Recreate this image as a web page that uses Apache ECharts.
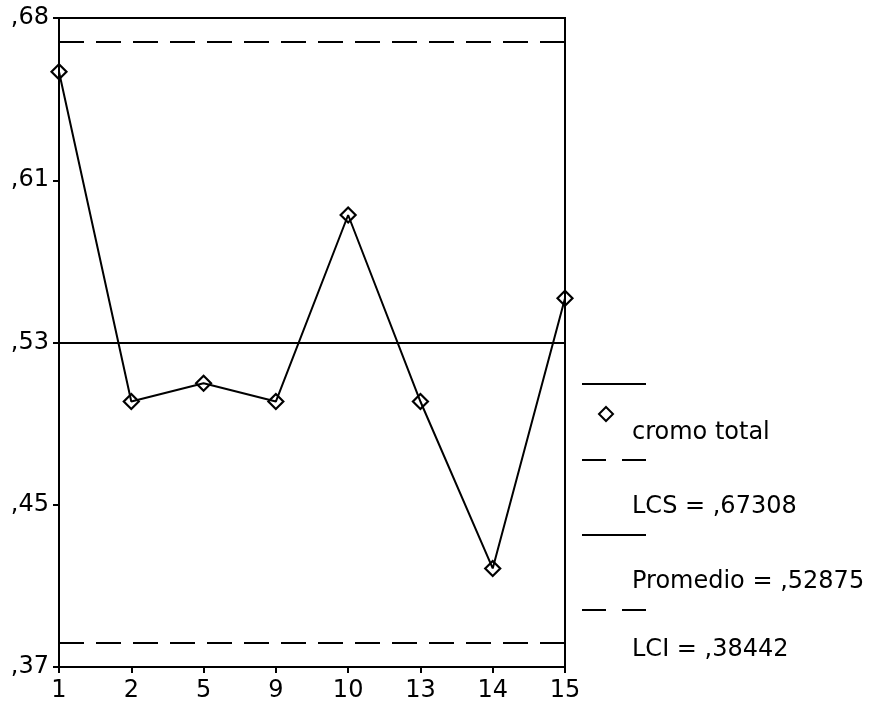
<!DOCTYPE html>
<html>
<head>
<meta charset="utf-8">
<script src="https://cdn.jsdelivr.net/npm/echarts@6/dist/echarts.min.js"></script>
<style>
  html, body { margin: 0; padding: 0; background: #fff; }
  #chart { width: 873px; height: 704px; }
</style>
</head>
<body>
<div id="chart"></div>
<script>
// muestras (eje x) y valores de cromo total
var categories = ['1', '2', '5', '9', '10', '13', '14', '15'];
var cromoTotal = [0.6588, 0.5004, 0.5092, 0.5004, 0.5900, 0.5004, 0.4202, 0.5500];

// limites de control
var LCS = 0.67308;
var promedio = 0.52875;
var LCI = 0.38442;

// eje y: marcas centradas en el promedio
var yMin = 0.37287;
var yMax = 0.68463;
var yTicks = [0.37287, 0.45081, 0.52875, 0.60669, 0.68463];
var yTickLabels = [',37', ',45', ',53', ',61', ',68'];

var FONT = 'DejaVu Sans';
var chart = echarts.init(document.getElementById('chart'));

function fmt(v) {
  return ',' + v.toFixed(5).split('.')[1];
}

chart.setOption({
  animation: false,
  backgroundColor: '#fff',
  grid: {
    left: 59,
    right: 308,
    top: 18,
    bottom: 37,
    show: true,
    borderColor: '#000',
    borderWidth: 2,
    backgroundColor: 'transparent'
  },
  xAxis: {
    type: 'category',
    data: categories,
    boundaryGap: false,
    axisLine: { lineStyle: { color: '#000', width: 2 } },
    axisTick: { show: true, length: 6, lineStyle: { color: '#000', width: 2 } },
    axisLabel: { color: '#000', fontFamily: FONT, fontSize: 24, margin: 12 },
    splitLine: { show: false }
  },
  yAxis: {
    type: 'value',
    min: yMin,
    max: yMax,
    axisLine: { show: true, lineStyle: { color: '#000', width: 2 } },
    axisTick: { show: true, length: 6, customValues: yTicks, lineStyle: { color: '#000', width: 2 } },
    axisLabel: {
      color: '#000', fontFamily: FONT, fontSize: 24, margin: 10,
      customValues: yTicks,
      formatter: function (v) {
        for (var i = 0; i < yTicks.length; i++) {
          if (Math.abs(yTicks[i] - v) < 1e-6) return yTickLabels[i];
        }
        return '';
      }
    },
    splitLine: { show: false }
  },
  series: [{
    name: 'cromo total',
    type: 'line',
    data: cromoTotal,
    symbol: 'diamond',
    symbolSize: 15,
    lineStyle: { color: '#000', width: 2 },
    itemStyle: { color: 'rgba(0,0,0,0)', borderColor: '#000', borderWidth: 2.2 },
    markLine: {
      silent: true,
      symbol: 'none',
      precision: 6, // sin esto redondea a 2 decimales
      label: { show: false },
      lineStyle: { color: '#000', width: 2 },
      data: [
        { yAxis: LCS, lineStyle: { type: [25, 12], color: '#000', width: 2 } },
        { yAxis: promedio, lineStyle: { type: 'solid', color: '#000', width: 2 } },
        { yAxis: LCI, lineStyle: { type: [25, 12], color: '#000', width: 2 } }
      ]
    }
  }],
  // leyenda al estilo SPSS
  graphic: [
    { type: 'line', shape: { x1: 582, y1: 384, x2: 646, y2: 384 }, style: { stroke: '#000', lineWidth: 2 } },
    { type: 'polygon', shape: { points: [[606, 407], [613, 414], [606, 421], [599, 414]] }, style: { fill: 'none', stroke: '#000', lineWidth: 2 } },
    { type: 'text', left: 632, top: 421, style: { text: 'cromo total', fontFamily: FONT, fontSize: 24, fill: '#000' } },
    { type: 'line', shape: { x1: 582, y1: 460, x2: 646, y2: 460 }, style: { stroke: '#000', lineWidth: 2, lineDash: [24, 16] } },
    { type: 'text', left: 632, top: 495, style: { text: 'LCS = ' + fmt(LCS), fontFamily: FONT, fontSize: 24, fill: '#000' } },
    { type: 'line', shape: { x1: 582, y1: 535, x2: 646, y2: 535 }, style: { stroke: '#000', lineWidth: 2 } },
    { type: 'text', left: 632, top: 570, style: { text: 'Promedio = ' + fmt(promedio), fontFamily: FONT, fontSize: 24, fill: '#000' } },
    { type: 'line', shape: { x1: 582, y1: 610, x2: 646, y2: 610 }, style: { stroke: '#000', lineWidth: 2, lineDash: [24, 16] } },
    { type: 'text', left: 632, top: 638, style: { text: 'LCI = ' + fmt(LCI), fontFamily: FONT, fontSize: 24, fill: '#000' } }
  ]
});
</script>
</body>
</html>
